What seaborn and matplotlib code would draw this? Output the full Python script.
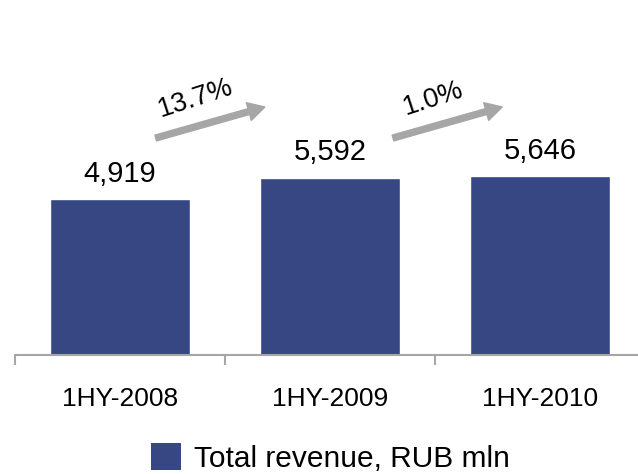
import matplotlib
matplotlib.use("Agg")
import matplotlib.pyplot as plt
import seaborn as sns
import pandas as pd
from matplotlib.patches import Patch

# data
periods = ["1HY-2008", "1HY-2009", "1HY-2010"]
revenue = [4919, 5592, 5646]
growth_labels = ["13.7%", "1.0%"]
legend_label = "Total revenue, RUB mln"

bar_color = "#364784"
grey = "#a6a6a6"

sns.set_style("white")
plt.rcParams["font.family"] = ["Liberation Sans", "DejaVu Sans"]
plt.rcParams["text.color"] = "black"
plt.rcParams["xtick.color"] = "black"

df = pd.DataFrame({"period": periods, "revenue": revenue})

fig = plt.figure(figsize=(6.38, 4.74), dpi=100)
ax = fig.add_axes([15 / 638, 119 / 474, 630 / 638, 317 / 474])

sns.barplot(data=df, x="period", y="revenue", color=bar_color,
            saturation=1, width=0.67, ax=ax)

ax.set_ylim(0, 10000)
ax.set_xlim(-0.5, 2.5)
ax.set_xlabel("")
ax.set_ylabel("")
ax.set_yticks([])
sns.despine(ax=ax, left=True, top=True, right=True)
ax.spines["bottom"].set_color(grey)
ax.spines["bottom"].set_linewidth(1.5)

# tick marks sit between categories
ax.set_xticks([-0.5, 0.5, 1.5, 2.5], minor=True)
ax.tick_params(axis="x", which="minor", bottom=True, length=7, width=1.5,
               color=grey, direction="out")
ax.tick_params(axis="x", which="major", length=0, pad=23, labelsize=19,
               labelcolor="black")

# value labels above bars
for i, v in enumerate(revenue):
    ax.annotate(f"{v:,}", xy=(i, v), xytext=(0, 12.5), textcoords="offset points",
                ha="center", va="baseline", fontsize=21, color="black")

# growth arrows between bars
for i, lab in enumerate(growth_labels):
    x0 = i + 0.17 + 0.13 * i
    x1 = i + 0.69 + 0.13 * i
    ax.annotate("", xy=(x1, 7823), xytext=(x0, 6845),
                arrowprops=dict(arrowstyle="simple,head_length=1.0,head_width=1.1,tail_width=0.36",
                                mutation_scale=12, color=grey, shrinkA=0, shrinkB=0))
    ax.text((x0 + x1) / 2 - 0.07, 8080, lab, rotation=18, ha="center", va="center",
            fontsize=19.5, rotation_mode="anchor", color="black")

handles = [Patch(facecolor=bar_color, edgecolor="none", label=legend_label)]
fig.legend(handles=handles, loc="center", bbox_to_anchor=(0.518, 0.034),
           frameon=False, fontsize=21.5, handlelength=1.0, handleheight=1.0,
           handletextpad=0.45, borderpad=0, labelcolor="black")

fig.savefig("out.png", dpi=100)
